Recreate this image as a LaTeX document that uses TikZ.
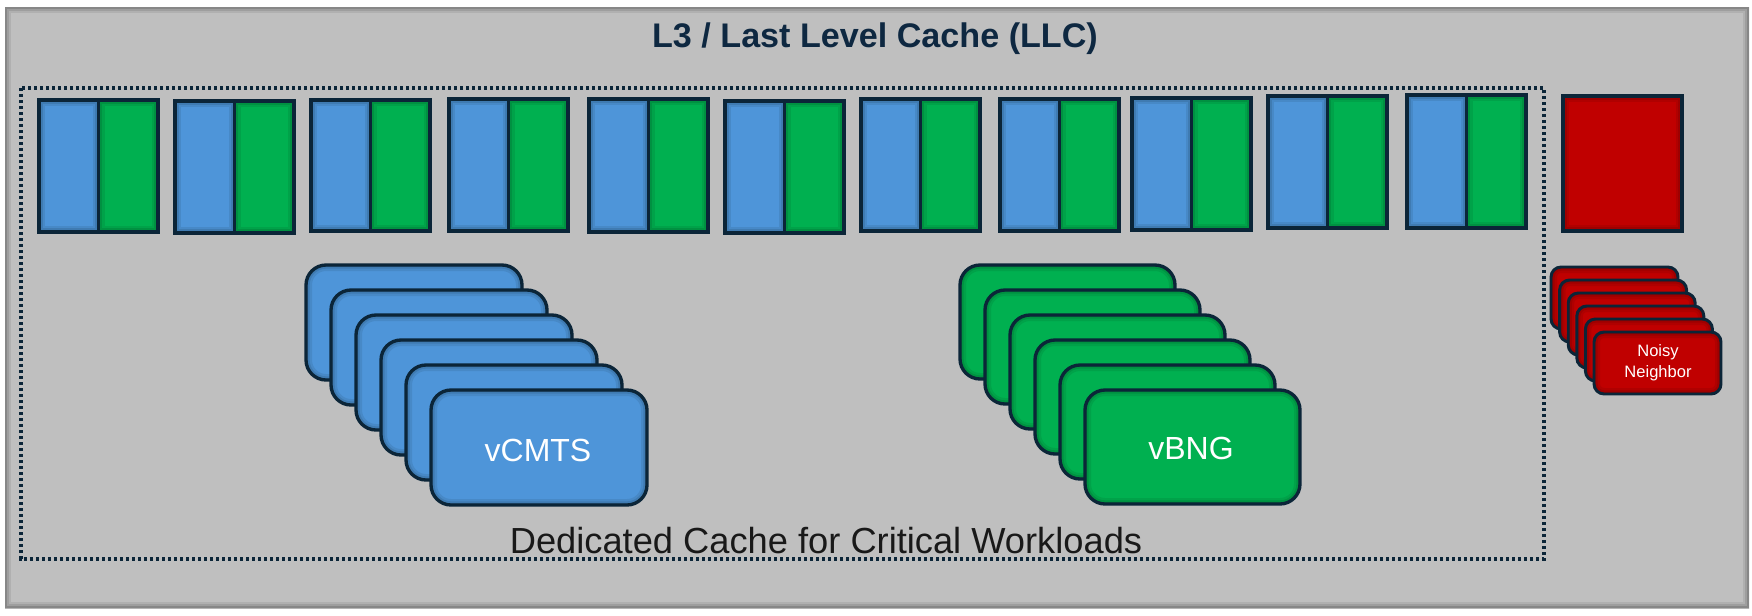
\documentclass[tikz,border=0pt]{standalone}
\usepackage{fontspec}
\setmainfont{Liberation Sans}
\definecolor{llcgray}{HTML}{BFBFBF}
\definecolor{navy}{HTML}{0E2841}
\definecolor{edge}{HTML}{0B2538}
\definecolor{vblue}{HTML}{4E95D9}
\definecolor{vgreen}{HTML}{00B050}
\definecolor{vred}{HTML}{C00000}
\newcommand{\innerglow}[1]{%
  \draw[line width=9pt,black,opacity=0.08,rounded corners=#1] (path picture bounding box.south west) rectangle (path picture bounding box.north east);
  \draw[line width=5.5pt,black,opacity=0.10,rounded corners=#1] (path picture bounding box.south west) rectangle (path picture bounding box.north east);
  \draw[line width=2.5pt,black,opacity=0.14,rounded corners=#1] (path picture bounding box.south west) rectangle (path picture bounding box.north east);}
\tikzset{
  half/.style={draw=edge,line width=2.3pt,path picture={\innerglow{0pt}}},
  vmbox/.style={draw=edge,line width=2.5pt,rounded corners=15pt,path picture={\innerglow{15pt}}},
  nnbox/.style={draw=edge,line width=2.2pt,rounded corners=7.5pt,fill=vred,path picture={\innerglow{7.5pt}}},
  dots/.style={draw=edge,line width=2.3pt,dash pattern=on 2.3pt off 2.2pt}
}
\begin{document}
\begin{tikzpicture}[x=0.75pt,y=0.75pt,yscale=-1,xscale=1]
\useasboundingbox (0,0) rectangle (1752,615);

%Shape: Rectangle [id:llc]
\path[fill=llcgray,path picture={\innerglow{0pt}}] (5,7) rectangle (1749,608);
%Shape: Rectangle [id:dedicated]
\draw[dots] (21,88) rectangle (1544,559);

%Shape: Rectangle [id:way1]
\draw[half,fill=vblue] (39,100) rectangle (98.5,232);
\draw[half,fill=vgreen] (98.5,100) rectangle (158,232);
%Shape: Rectangle [id:way2]
\draw[half,fill=vblue] (175,101) rectangle (234.5,233);
\draw[half,fill=vgreen] (234.5,101) rectangle (294,233);
%Shape: Rectangle [id:way3]
\draw[half,fill=vblue] (311,100) rectangle (370.5,231);
\draw[half,fill=vgreen] (370.5,100) rectangle (430,231);
%Shape: Rectangle [id:way4]
\draw[half,fill=vblue] (449,99) rectangle (508.5,231);
\draw[half,fill=vgreen] (508.5,99) rectangle (568,231);
%Shape: Rectangle [id:way5]
\draw[half,fill=vblue] (589,99) rectangle (648.5,232);
\draw[half,fill=vgreen] (648.5,99) rectangle (708,232);
%Shape: Rectangle [id:way6]
\draw[half,fill=vblue] (725,101) rectangle (784.5,233);
\draw[half,fill=vgreen] (784.5,101) rectangle (844,233);
%Shape: Rectangle [id:way7]
\draw[half,fill=vblue] (861,99) rectangle (920.5,231);
\draw[half,fill=vgreen] (920.5,99) rectangle (980,231);
%Shape: Rectangle [id:way8]
\draw[half,fill=vblue] (1000,99) rectangle (1059.5,231);
\draw[half,fill=vgreen] (1059.5,99) rectangle (1119,231);
%Shape: Rectangle [id:way9]
\draw[half,fill=vblue] (1132,98) rectangle (1191.5,230);
\draw[half,fill=vgreen] (1191.5,98) rectangle (1251,230);
%Shape: Rectangle [id:way10]
\draw[half,fill=vblue] (1268,96) rectangle (1327.5,228);
\draw[half,fill=vgreen] (1327.5,96) rectangle (1387,228);
%Shape: Rectangle [id:way11]
\draw[half,fill=vblue] (1407,95) rectangle (1466.5,228);
\draw[half,fill=vgreen] (1466.5,95) rectangle (1526,228);
%Shape: Rectangle [id:noisyway]
\draw[half,fill=vred] (1563,96) rectangle (1682,231);

%Shape: Rounded Rect [id:vcmts1..6]
\draw[vmbox,fill=vblue] (306,265) rectangle (522,380);
\draw[vmbox,fill=vblue] (331,290) rectangle (547,405);
\draw[vmbox,fill=vblue] (356,315) rectangle (572,430);
\draw[vmbox,fill=vblue] (381,340) rectangle (597,455);
\draw[vmbox,fill=vblue] (406,365) rectangle (622,480);
\draw[vmbox,fill=vblue] (431,390) rectangle (647,505);

%Shape: Rounded Rect [id:vbng1..6]
\draw[vmbox,fill=vgreen] (960,265) rectangle (1175,379);
\draw[vmbox,fill=vgreen] (985,290) rectangle (1200,404);
\draw[vmbox,fill=vgreen] (1010,315) rectangle (1225,429);
\draw[vmbox,fill=vgreen] (1035,340) rectangle (1250,454);
\draw[vmbox,fill=vgreen] (1060,365) rectangle (1275,479);
\draw[vmbox,fill=vgreen] (1085,390) rectangle (1300,504);

%Shape: Rounded Rect [id:noisy1..6]
\draw[nnbox] (1551,267) rectangle (1678,329);
\draw[nnbox] (1559.6,280) rectangle (1686.6,342);
\draw[nnbox] (1568.2,293) rectangle (1695.2,355);
\draw[nnbox] (1576.8,306) rectangle (1703.8,368);
\draw[nnbox] (1585.4,319) rectangle (1712.4,381);
\draw[nnbox] (1594,332) rectangle (1721,394);

% Text Node
\node[anchor=base,text=navy,font=\fontsize{25.6}{30}\selectfont\bfseries] (title) at (875,47) {L3 / Last Level Cache (LLC)};
% Text Node
\node[anchor=base,text=black!90,font=\fontsize{27.2}{32}\selectfont] (dedicatedlbl) at (826,553) {Dedicated Cache for Critical Workloads};
% Text Node
\node[anchor=base,text=white,font=\fontsize{24}{29}\selectfont] (vcmts) at (538,461) {vCMTS};
% Text Node
\node[anchor=base,text=white,font=\fontsize{24}{29}\selectfont] (vbng) at (1191,459) {vBNG};
% Text Node
\node[align=center,text=white,font=\fontsize{12.4}{15.75}\selectfont] (noisy) at (1658,363) {Noisy\\Neighbor};

\end{tikzpicture}
\end{document}
